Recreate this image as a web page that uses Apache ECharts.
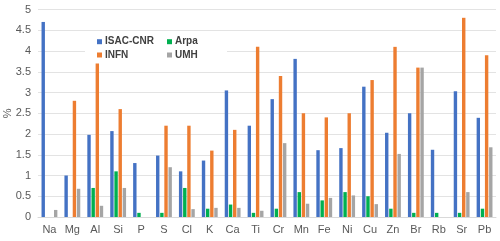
<!DOCTYPE html>
<html><head><meta charset="utf-8">
<script src="https://cdn.jsdelivr.net/npm/echarts@6/dist/echarts.min.js"></script>
<style>html,body{margin:0;padding:0;background:#fff}#c{width:500px;height:241px}</style>
</head><body><div id="c"></div>
<script>
var categories = ['Na','Mg','Al','Si','P','S','Cl','K','Ca','Ti','Cr','Mn','Fe','Ni','Cu','Zn','Br','Rb','Sr','Pb'];
var isacCnr = [4.7,1.0,1.98,2.07,1.3,1.48,1.1,1.36,3.05,2.2,2.84,3.81,1.61,1.66,3.14,2.03,2.5,1.62,3.03,2.39];
var arpa    = [0,0,0.7,1.1,0.1,0.1,0.7,0.2,0.3,0.1,0.2,0.6,0.4,0.6,0.5,0.2,0.1,0.1,0.1,0.2];
var infn    = [0,2.8,3.7,2.6,0,2.2,2.2,1.6,2.1,4.1,3.4,2.5,2.4,2.5,3.3,4.1,3.6,0,4.8,3.9];
var umh     = [0.17,0.68,0.27,0.7,0,1.2,0.19,0.22,0.22,0.15,1.78,0.32,0.46,0.52,0.31,1.52,3.6,0,0.6,1.68];
var yTicks  = [0,0.5,1,1.5,2,2.5,3,3.5,4,4.5,5];

var font = 'Liberation Sans';
var chart = echarts.init(document.getElementById('c'), null, {renderer:'canvas'});
function bar(name, data, color){
  return {name:name, type:'bar', data:data, barWidth:3.4, barGap:'22%',
    itemStyle:{color:color}, z:3};
}
var legText = {fontFamily:font, fontSize:10, fontWeight:'bold', color:'#404040', lineHeight:12, padding:[0,0,0,-2]};
chart.setOption({
  animation:false,
  textStyle:{fontFamily:font},
  grid:{left:38, right:4, top:9.5, bottom:24, containLabel:false, outerBoundsMode:'none'},
  graphic:[{type:'rect', shape:{x:85, y:33, width:142, height:31}, style:{fill:'#fff'}, z:1, silent:true}],
  legend:[
    {data:['ISAC-CNR','INFN'], orient:'vertical', left:97, top:35.7, padding:0, itemWidth:5, itemHeight:5, itemGap:1.3, icon:'rect',
     textStyle:legText, z:4},
    {data:['Arpa','UMH'], orient:'vertical', left:167, top:35.7, padding:0, itemWidth:5, itemHeight:5, itemGap:1.3, icon:'rect',
     textStyle:legText, z:4}
  ],
  xAxis:{type:'category', data:categories,
    axisLine:{lineStyle:{color:'#d9d9d9'}}, axisTick:{show:false},
    axisLabel:{color:'#595959', fontSize:11, margin:7, interval:0}},
  yAxis:{type:'value', min:yTicks[0], max:yTicks[yTicks.length-1], interval:0.5,
    name:'%', nameLocation:'middle', nameGap:25, nameRotate:90, nameMoveOverlap:false,
    nameTextStyle:{color:'#595959', fontSize:11},
    axisLine:{show:false}, axisTick:{show:false},
    axisLabel:{color:'#595959', fontSize:11, margin:7},
    splitLine:{lineStyle:{color:'#e3e3e3'}}},
  series:[
    bar('ISAC-CNR', isacCnr, '#4472C4'),
    bar('Arpa', arpa, '#00B050'),
    bar('INFN', infn, '#ED7D31'),
    bar('UMH', umh, '#A5A5A5')
  ]
});
</script></body></html>
